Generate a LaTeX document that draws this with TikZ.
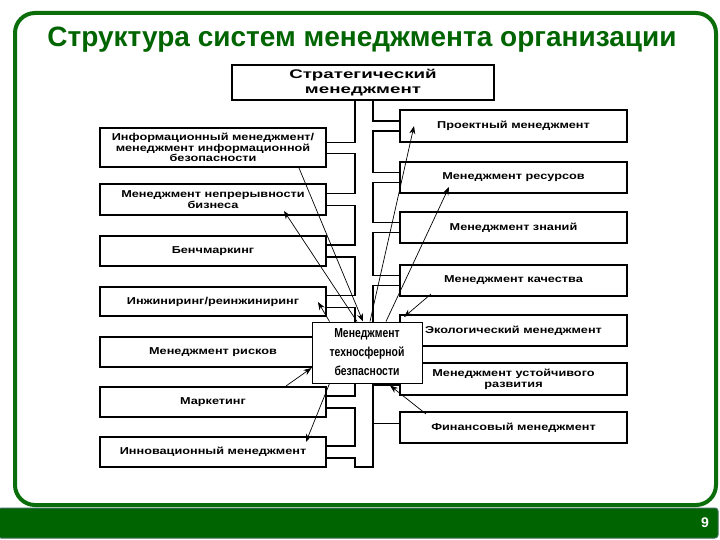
\documentclass[tikz,border=0pt]{standalone}
\usepackage{fontspec}
\setmainfont{Liberation Sans}
\newfontfamily\boxfont[FakeStretch=1.27]{Liberation Sans Bold}
\newfontfamily\topfont[FakeStretch=1.5]{Liberation Sans Bold}
\newfontfamily\narrowfont[FakeStretch=0.8]{Liberation Sans}
\usetikzlibrary{arrows.meta,calc}
\definecolor{framegreen}{HTML}{0B6E0B}
\definecolor{titlegreen}{HTML}{006400}
\definecolor{bargreen}{HTML}{006400}
\definecolor{baredge}{HTML}{3F6F5F}
\begin{document}
\begin{tikzpicture}[x=1pt,y=-1pt,
  box/.style={draw=black, line width=2pt, fill=white, minimum width=226pt,
    align=center, inner sep=1pt, font=\boxfont\fontsize{10}{10.8}\selectfont},
  trunk/.style={line width=1.6pt},
  arr/.style={line width=0.7pt, -{Stealth[length=8pt,width=6pt]}}]
\useasboundingbox (0,0) rectangle (720,540);
% frame and footer
\draw[line width=4pt, draw=framegreen, rounded corners=20pt] (15,13) rectangle (716,505);
\draw[fill=bargreen, draw=baredge, line width=1pt, rounded corners=3pt] (-2,508) rectangle (718,538);
\node[text=white, font=\bfseries\fontsize{14}{16}\selectfont] (pg) at (705,523) {9};
\node[text=titlegreen, font=\bfseries\fontsize{28}{30}\selectfont] (title) at (362,40) {Структура систем менеджмента организации};
% top box
\node[box, minimum width=262pt, minimum height=35pt, font=\topfont\fontsize{12.5}{15}\selectfont] (top) at (363,82.5) {Стратегический\\менеджмент};
% left boxes
\node[box, minimum height=39pt] (L1) at (213,147.5) {Информационный менеджмент/\\менеджмент информационной\\безопасности};
\node[box, minimum height=31pt] (L2) at (213,199.5) {Менеджмент непрерывности\\бизнеса};
\node[box, minimum height=30pt] (L3) at (213,251) {Бенчмаркинг};
\node[box, minimum height=29pt] (L4) at (213,301.5) {Инжиниринг/реинжиниринг};
\node[box, minimum height=30pt] (L5) at (213,352) {Менеджмент рисков};
\node[box, minimum height=30pt] (L6) at (213,402) {Маркетинг};
\node[box, minimum height=30pt] (L7) at (213,452) {Инновационный менеджмент};
% right boxes
\node[box, minimum width=227pt, minimum height=32pt] (R1) at (513.5,126) {Проектный менеджмент};
\node[box, minimum width=227pt, minimum height=31pt] (R2) at (513.5,177.5) {Менеджмент ресурсов};
\node[box, minimum width=227pt, minimum height=31pt] (R3) at (513.5,227.5) {Менеджмент знаний};
\node[box, minimum width=227pt, minimum height=31pt] (R4) at (513.5,280.5) {Менеджмент качества};
\node[box, minimum width=227pt, minimum height=31pt] (R5) at (513.5,330.5) {Экологический менеджмент};
\node[box, minimum width=227pt, minimum height=32pt] (R6) at (513.5,379) {Менеджмент устойчивого\\развития};
\node[box, minimum width=227pt, minimum height=31pt] (R7) at (513.5,427.5) {Финансовый менеджмент};
% trunk x positions
\coordinate (lt) at (355,0);
\coordinate (rt) at (373,0);
\coordinate (bot) at (0,467);
% left snake
\draw[trunk] (top.south -| lt) |- ([yshift=5pt]L1.east);
\foreach \a/\b in {L1/L2,L2/L3,L3/L4,L4/L5,L5/L6,L6/L7}{
  \draw[trunk] ([yshift=-6pt]\a.east) -| ($([yshift=6pt]\b.east -| lt)$) -- ([yshift=6pt]\b.east);
}
% right snake
\draw[trunk] (top.south -| rt) |- ([yshift=5pt]R1.west);
\foreach \a/\b in {R1/R2,R2/R3,R3/R4,R4/R5,R5/R6}{
  \draw[trunk] ([yshift=-5pt]\a.west) -| ($([yshift=5pt]\b.west -| rt)$) -- ([yshift=5pt]\b.west);
}
\draw[trunk] ([yshift=-6pt]R6.west) -| (bot -| rt) -| ([yshift=-6pt]L7.east -| lt) -- ([yshift=-6pt]L7.east);
\draw[trunk] ([yshift=4pt]R7.west) -- ([yshift=4pt]R7.west -| rt);
% centre box
\node[draw=black, line width=1pt, fill=white, minimum width=110pt, minimum height=61pt, inner sep=1pt,
  align=center, font=\narrowfont\bfseries\fontsize{13}{19}\selectfont] (C) at (367,352.5)
  {Менеджмент\\техносферной\\безпасности};
% arrows
\draw[arr] ([shift={(-28,0)}]L1.south east) -- ([shift={(-4,0)}]C.north);
\draw[arr] ([shift={(-10,0)}]C.north) -- ([shift={(185,-5)}]L2.south west);
\draw[arr] ([shift={(18,0)}]C.north west) -- ([shift={(-9,-15)}]L4.south east);
\draw[arr] ([shift={(187,0)}]L6.north west) -- ([shift={(0,15.5)}]C.west);
\draw[arr] ([shift={(18,0)}]C.south west) -- ([shift={(207,6)}]L7.north west);
\draw[arr] ([shift={(3,0)}]C.north) -- ([shift={(15,-17)}]R1.south west);
\draw[arr] ([shift={(19,0)}]C.north) -- ([shift={(50,-7)}]R2.south west);
\draw[arr] ([shift={(32,-3)}]R4.south west) -- ([shift={(5,3)}]R5.north west);
\draw[arr] ([shift={(27,3)}]R7.north west) -- ([shift={(23,2)}]C.south);
\end{tikzpicture}
\end{document}
